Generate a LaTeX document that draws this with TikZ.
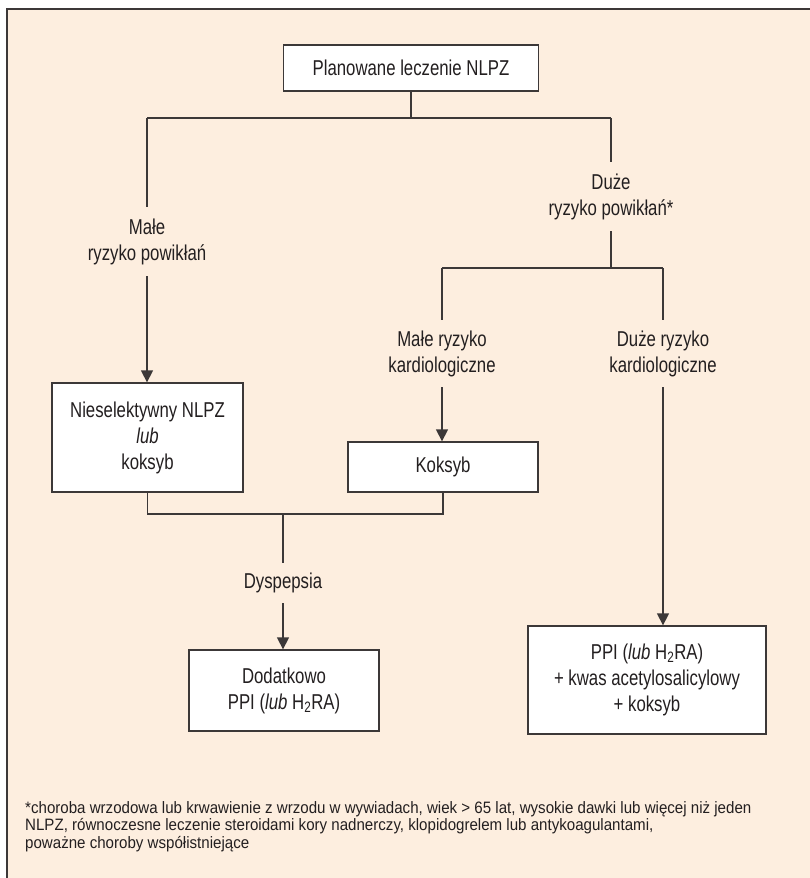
\documentclass[tikz,border=0pt]{standalone}
\usepackage{fontspec}
\setmainfont{Liberation Sans}[FakeStretch=0.78]
\newfontfamily\notefont{Liberation Sans}[FakeStretch=0.915]
\usetikzlibrary{arrows.meta}
\definecolor{cream}{HTML}{FDEEDF}
\definecolor{ink}{HTML}{231F20}
\definecolor{rulegray}{HTML}{3C3838}

\begin{document}
\begin{tikzpicture}[x=1pt,y=-1pt,
  every node/.style={text=ink, font=\fontsize{21.5}{26}\selectfont},
  box/.style={draw=rulegray, line width=1.3pt, fill=white, align=center, inner sep=0pt},
  lbl/.style={align=center, inner sep=0pt},
  link/.style={draw=rulegray, line width=1.3pt},
  arr/.style={link, -{Triangle[width=12pt,length=12pt]}}]

% page and panel
\fill[white] (0,0) rectangle (810,878);
\useasboundingbox (0,0) rectangle (810,878);
\fill[cream] (7,9) rectangle (810,878);
\draw[rulegray, line width=1.3pt] (810,9) -- (7,9) -- (7,878);

% root and first split
\node[box, minimum width=255pt, minimum height=46pt] (top) at (411,68) {Planowane leczenie NLPZ};
\coordinate (lowfork) at (147,118);
\coordinate (highfork) at (611,118);
\draw[link] (top.south) -- (top.south |- lowfork);
\draw[link] (lowfork) -- (highfork);

% low risk of complications
\node[lbl, minimum height=69pt] (lowrisk) at (147,241.5) {Małe\\ryzyko powikłań};
\draw[link] (lowfork) -- (lowrisk.north);
\node[box, minimum width=191pt, minimum height=109pt] (nsaid) at (147.5,437.5) {Nieselektywny NLPZ\\\textit{lub}\\koksyb};
\draw[arr] (lowrisk.south) -- (lowrisk.south |- nsaid.north);

% high risk of complications
\node[lbl, minimum height=69pt] (highrisk) at (611,196.5) {Duże\\ryzyko powikłań*};
\draw[link] (highfork) -- (highrisk.north);
\coordinate (cardfork) at (611,268);
\coordinate (cardlow) at (442,268);
\coordinate (cardhigh) at (663,268);
\draw[link] (highrisk.south) -- (cardfork);
\draw[link] (cardlow) -- (cardhigh);

\node[lbl, minimum height=67pt] (lowcard) at (442,353.5) {Małe ryzyko\\kardiologiczne};
\node[lbl, minimum height=67pt] (highcard) at (663,353.5) {Duże ryzyko\\kardiologiczne};
\draw[link] (cardlow) -- (lowcard.north);
\draw[link] (cardhigh) -- (highcard.north);

\node[box, minimum width=190pt, minimum height=50pt] (coxib) at (443,467) {Koksyb};
\draw[arr] (lowcard.south) -- (lowcard.south |- coxib.north);

\node[box, minimum width=238pt, minimum height=108pt] (combo) at (647,680) {PPI (\textit{lub} H\textsubscript{2}RA)\\+ kwas acetylosalicylowy\\+ koksyb};
\draw[arr] (highcard.south) -- (highcard.south |- combo.north);

% dyspepsia branch
\coordinate (join) at (283,514);
\draw[link] (nsaid.south) |- (join) -| (coxib.south);
\node[lbl, minimum height=40pt] (dysp) at (283,583) {Dyspepsia};
\draw[link] (join) -- (dysp.north);
\node[box, minimum width=190pt, minimum height=81pt] (extra) at (284,690.5) {Dodatkowo\\PPI (\textit{lub} H\textsubscript{2}RA)};
\draw[arr] (dysp.south) -- (dysp.south |- extra.north);

% footnote
\node[anchor=north west, align=left, inner sep=0pt, font=\notefont\fontsize{16.5}{17.5}\selectfont] (note) at (25,801)
  {*choroba wrzodowa lub krwawienie z wrzodu w wywiadach, wiek > 65 lat, wysokie dawki lub więcej niż jeden\\
   NLPZ, równoczesne leczenie steroidami kory nadnerczy, klopidogrelem lub antykoagulantami,\\
   poważne choroby współistniejące};
\end{tikzpicture}
\end{document}
